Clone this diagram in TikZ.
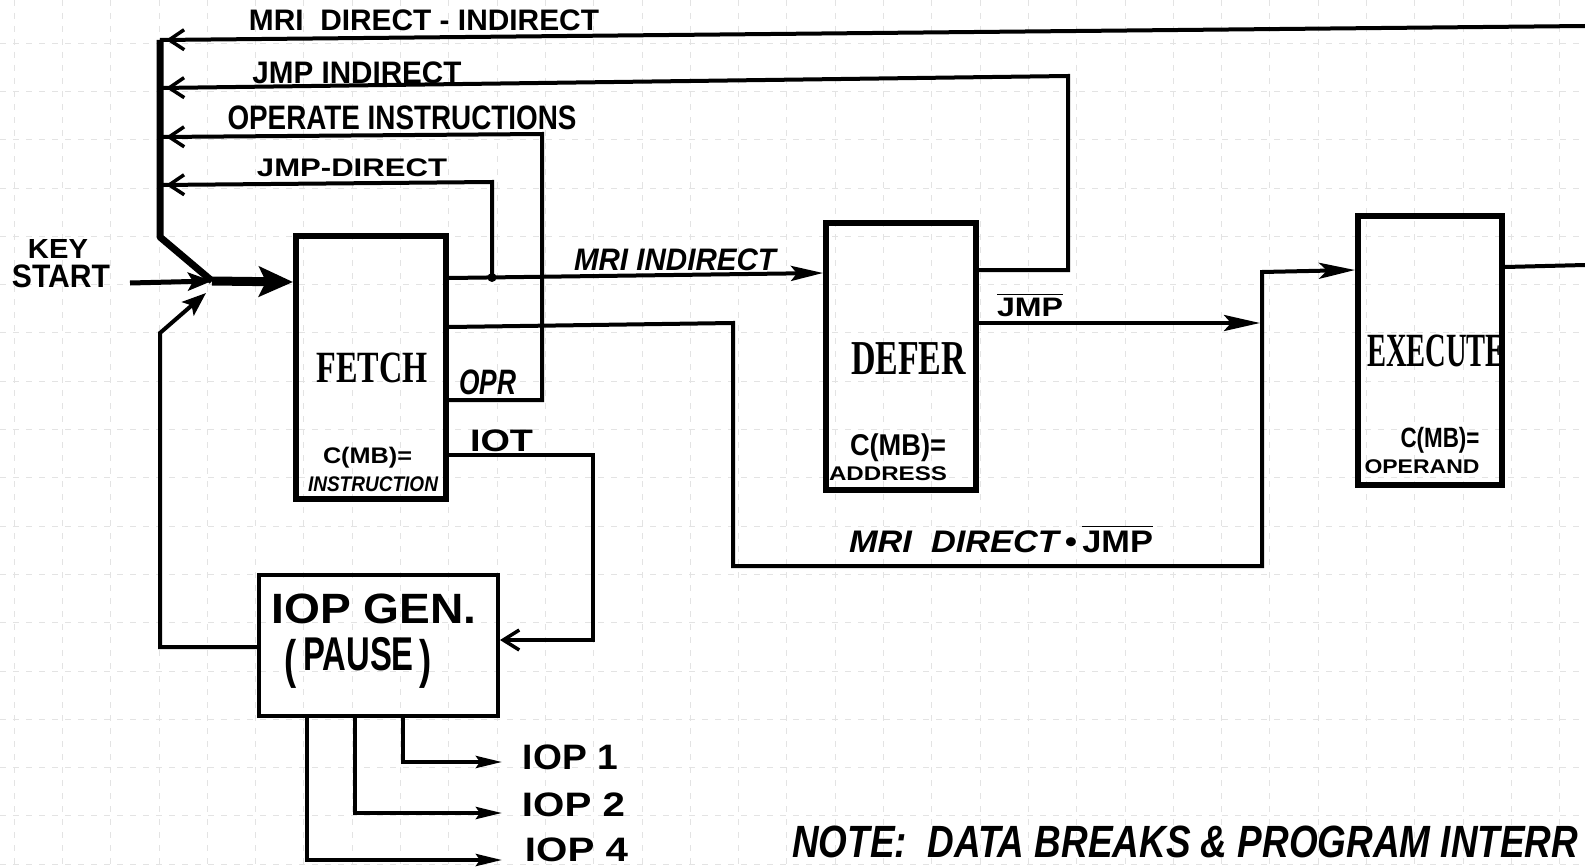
\documentclass[tikz,border=0pt]{standalone}
\usepackage{fontspec}
\usepackage{graphicx}
\setmainfont{Liberation Sans}
\newfontfamily\stampfont{Liberation Serif}
\usetikzlibrary{arrows.meta,decorations.markings}
\newcommand{\fitbox}[3]{\resizebox*{#1pt}{#2pt}{#3}}
\begin{document}
\begin{tikzpicture}[x=1pt,y=-1pt,
  wire/.style={line width=4pt, line join=miter},
  fb/.style={wire, postaction={decorate},
    decoration={markings, mark=at position -6pt with {\arrow{Straight Barb[length=15pt,width=20pt,line width=3.5pt]}}}},
  box/.style={draw, line width=6pt, inner sep=0pt},
  lbl/.style={inner sep=0pt, font=\bfseries},
  gridl/.style={gray!22, line width=0.8pt, dash pattern=on 6pt off 7pt}]
\useasboundingbox (0,0) rectangle (1585,867);
\fill[white] (0,0) rectangle (1585,867);
\clip (0,0) rectangle (1585,867);
% graph paper
\foreach \i in {0,...,32} {\draw[gridl] ({14+48.3*\i},0) -- ({14+48.3*\i},867);}
\foreach \i in {-1,...,17} {\draw[gridl] (0,{43+48.3*\i}) -- (1585,{43+48.3*\i});}

% boxes
\node[box, minimum width=150pt, minimum height=263pt] (fetch) at (371,367.5) {};
\node[box, minimum width=150pt, minimum height=267pt] (defer) at (901,356.5) {};
\node[box, minimum width=144pt, minimum height=269pt] (execute) at (1430,350.5) {};
\node[box, line width=4pt, minimum width=239pt, minimum height=141pt] (iop) at (378.5,645.5) {};

% coordinates
\coordinate (bustop) at (160,40);
\coordinate (busbot) at (160,237);
\coordinate (merge) at (212,281);
\coordinate (offr) at (1585,26);
\coordinate (offe) at (1585,265);
\coordinate (jd) at (492,277.5);
\coordinate (keyin) at (130,283);
\coordinate (lowtip) at (206,293);
\coordinate (jmpjoin) at (1260,323);
\coordinate (o1) at (502,762);
\coordinate (o2) at (502,813);
\coordinate (o4) at (502,860);

% feedback lines
\draw[fb] (offr) -- (bustop);
\draw[fb] (defer.east |- 0,270) -- (1068,270) -- (1068,76) -- (160,88);
\draw[fb] (fetch.east |- 0,400) -- (542,400) -- (542,134) -- (160,137);
\draw[fb] (jd) -- (492,182) -- (160,185);

% bus and inputs to fetch
\draw[line width=7pt, line join=round] (bustop) -- (busbot) -- (merge);
\draw[line width=5pt, -{Stealth[length=24pt,width=18pt,inset=5pt]}] (keyin) -- (merge);
\draw[wire, -{Stealth[length=24pt,width=18pt,inset=5pt]}] (iop.west |- 0,647) -- (160,647) -- (160,333) -- (lowtip);
\draw[line width=9pt, -{Stealth[length=34pt,width=30pt,inset=7pt]}] (merge) -- (fetch.west |- 0,282);

% fetch outputs
\draw[wire, -{Stealth[length=32pt,width=15pt,inset=6pt]}] (fetch.east |- 0,278) -- (defer.west |- 0,273);
\fill (jd) circle (4.5pt);
\draw[wire, -{Stealth[length=36pt,width=16pt,inset=8pt]}] (fetch.east |- 0,327) -- (733,323) -- (733,566) -- (1262,566) -- (1262,272) -- (execute.west |- 0,270);
\draw[wire, -{Stealth[length=36pt,width=16pt,inset=7pt]}] (defer.east |- 0,323) -- (jmpjoin);
\draw[wire] (execute.east |- 0,267) -- (offe);
\draw[wire, -{Straight Barb[length=16pt,width=20pt,line width=3.5pt]}] (fetch.east |- 0,455) -- (593,455) -- (593,640) -- (iop.east |- 0,640);

% IOP outputs
\draw[wire, -{Stealth[length=26pt,width=12pt,inset=4pt]}] (iop.south -| 403,0) -- (403,762) -- (o1);
\draw[wire, -{Stealth[length=26pt,width=12pt,inset=4pt]}] (iop.south -| 355,0) -- (355,813) -- (o2);
\draw[wire, -{Stealth[length=26pt,width=12pt,inset=4pt]}] (iop.south -| 307,0) -- (307,860) -- (o4);

% labels
\node[lbl] (lmdi) at (424,20.5) {\fitbox{350}{21}{MRI\ \ DIRECT - INDIRECT}};
\node[lbl] (ljmpi) at (357,73) {\fitbox{209}{22}{JMP INDIRECT}};
\node[lbl] (lopi) at (402,118) {\fitbox{349}{24}{OPERATE INSTRUCTIONS}};
\node[lbl] (ljmpd) at (352,168) {\fitbox{190}{18}{JMP-DIRECT}};
\node[lbl] (lkey) at (58,248.5) {\fitbox{60}{19}{KEY}};
\node[lbl] (lstart) at (61,276.5) {\fitbox{98}{23}{START}};
\node[lbl] (lmrii) at (675,260) {\fitbox{202}{22}{\itshape MRI INDIRECT}};
\node[lbl] (lfetch) at (372,368) {\fitbox{111}{30}{\stampfont\bfseries FETCH}};
\node[lbl] (lopr) at (488,382.5) {\fitbox{57}{25}{\itshape OPR}};
\node[lbl] (liot) at (501.5,441) {\fitbox{63}{22}{IOT}};
\node[lbl] (lcf) at (367.5,457.5) {\fitbox{89}{21}{C(MB)=}};
\node[lbl] (linstr) at (373,484.5) {\fitbox{130}{15}{\itshape INSTRUCTION}};
\node[lbl] (ldefer) at (908.5,359) {\fitbox{115}{32}{\stampfont\bfseries DEFER}};
\node[lbl] (lcd) at (898,448) {\fitbox{96}{28}{C(MB)=}};
\node[lbl] (laddr) at (888,473.5) {\fitbox{118}{14}{ADDRESS}};
\node[lbl] (lexec) at (1436,351) {\fitbox{138}{32}{\stampfont\bfseries EXECUTE}};
\node[lbl] (lce) at (1440,440) {\fitbox{79}{26}{C(MB)=}};
\node[lbl] (loper) at (1422,466.5) {\fitbox{115}{14}{OPERAND}};
\node[lbl] (ljmpbar) at (1030,305) {\fitbox{66}{24}{$\overline{\mbox{\bfseries JMP}}$}};
\node[lbl] (lmdj) at (1001,539) {\fitbox{304}{28}{\itshape MRI\ \ DIRECT\,\textbullet\,$\overline{\mbox{\bfseries\upshape JMP}}$}};
\node[lbl] (liopgen) at (374,609) {\fitbox{205}{30}{IOP GEN.}};
\node[lbl] (lpause) at (358.5,662.5) {\fitbox{147}{51}{(\,\raisebox{0.25ex}{\small PAUSE}\,)}};
\node[lbl] (liop1) at (570.5,757.5) {\fitbox{95}{25}{IOP 1}};
\node[lbl] (liop2) at (573.5,805) {\fitbox{103}{24}{IOP 2}};
\node[lbl] (liop4) at (576.5,850) {\fitbox{103}{24}{IOP 4}};
\node[lbl, anchor=west] (lnote) at (792,842) {\fitbox{786}{32}{\itshape NOTE:\ \ DATA BREAKS \& PROGRAM INTERR}};
\end{tikzpicture}
\end{document}
